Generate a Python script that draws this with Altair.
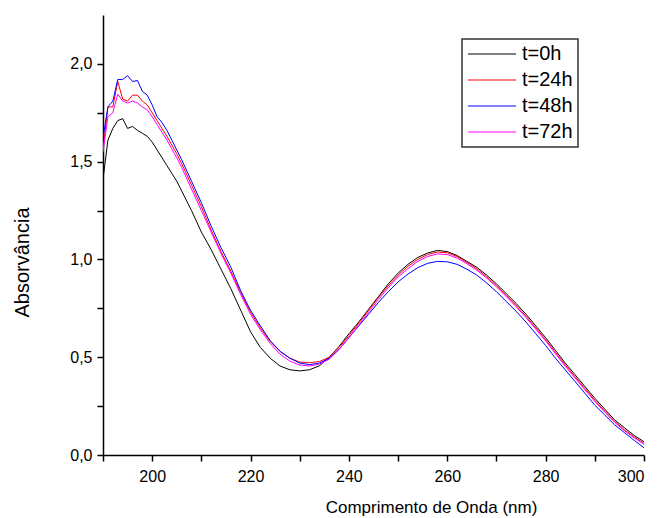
import altair as alt
import pandas as pd

wavelength = [190, 191, 192, 193, 194, 195, 196, 197, 198, 199, 200, 201, 202, 203, 204, 205, 206,
              208, 210, 212, 214, 216, 218, 220, 222, 224, 226, 228, 230, 232, 234, 236, 238, 240,
              242, 244, 246, 248, 250, 252, 254, 256, 258, 260, 262, 264, 266, 268, 270, 272, 274,
              276, 278, 280, 282, 284, 286, 288, 290, 292, 294, 296, 298, 300]

t0h = [1.41, 1.61, 1.67, 1.71, 1.72, 1.67, 1.68, 1.66, 1.645, 1.63, 1.60, 1.56, 1.52, 1.48, 1.44, 1.40, 1.35,
       1.25, 1.14, 1.05, 0.95, 0.85, 0.74, 0.63, 0.55, 0.495, 0.455, 0.436, 0.43, 0.436, 0.456, 0.50, 0.555, 0.62,
       0.68, 0.745, 0.81, 0.875, 0.93, 0.975, 1.01, 1.033, 1.046, 1.04, 1.02, 0.99, 0.96, 0.92, 0.875, 0.825, 0.775,
       0.72, 0.66, 0.60, 0.535, 0.47, 0.41, 0.35, 0.29, 0.235, 0.18, 0.14, 0.10, 0.068]

t24h = [1.56, 1.78, 1.78, 1.91, 1.82, 1.81, 1.84, 1.84, 1.81, 1.79, 1.75, 1.71, 1.67, 1.63, 1.585, 1.54, 1.49,
        1.38, 1.27, 1.15, 1.04, 0.94, 0.83, 0.73, 0.65, 0.58, 0.53, 0.495, 0.475, 0.472, 0.478, 0.50, 0.55, 0.61,
        0.675, 0.74, 0.805, 0.865, 0.92, 0.965, 1.00, 1.025, 1.038, 1.034, 1.015, 0.985, 0.952, 0.912, 0.866, 0.816, 0.765,
        0.71, 0.65, 0.59, 0.525, 0.46, 0.40, 0.34, 0.28, 0.225, 0.172, 0.13, 0.092, 0.06]

t48h = [1.62, 1.78, 1.81, 1.92, 1.92, 1.94, 1.91, 1.915, 1.86, 1.84, 1.79, 1.73, 1.70, 1.66, 1.61, 1.56, 1.51,
        1.40, 1.29, 1.17, 1.06, 0.96, 0.84, 0.74, 0.66, 0.585, 0.53, 0.495, 0.47, 0.462, 0.47, 0.495, 0.54, 0.60,
        0.66, 0.72, 0.78, 0.835, 0.885, 0.925, 0.958, 0.98, 0.99, 0.988, 0.975, 0.95, 0.92, 0.88, 0.835, 0.785, 0.735,
        0.68, 0.62, 0.56, 0.495, 0.435, 0.375, 0.315, 0.255, 0.205, 0.155, 0.115, 0.075, 0.037]

t72h = [1.55, 1.73, 1.75, 1.845, 1.81, 1.80, 1.81, 1.80, 1.78, 1.765, 1.73, 1.69, 1.65, 1.61, 1.565, 1.52, 1.47,
        1.36, 1.25, 1.14, 1.03, 0.93, 0.82, 0.72, 0.64, 0.57, 0.515, 0.48, 0.46, 0.455, 0.465, 0.49, 0.54, 0.60,
        0.665, 0.73, 0.795, 0.855, 0.91, 0.953, 0.99, 1.015, 1.028, 1.025, 1.007, 0.978, 0.945, 0.905, 0.86, 0.81, 0.758,
        0.703, 0.643, 0.583, 0.518, 0.453, 0.393, 0.333, 0.274, 0.22, 0.168, 0.125, 0.088, 0.055]

series_names = ["t=0h", "t=24h", "t=48h", "t=72h"]
series_values = [t0h, t24h, t48h, t72h]
series_colors = ["#000000", "#FF0000", "#0000FF", "#FF00FF"]

x_ticks = [190, 200, 210, 220, 230, 240, 250, 260, 270, 280, 290, 300]
y_ticks = [0.0, 0.25, 0.5, 0.75, 1.0, 1.25, 1.5, 1.75, 2.0]

rows = []
for name, vals in zip(series_names, series_values):
    for w, v in zip(wavelength, vals):
        rows.append({"nm": w, "abs": v, "serie": name})
df = pd.DataFrame(rows)

FONT = "Liberation Sans"

chart = alt.Chart(df).mark_line(strokeWidth=1, clip=True).encode(
    x=alt.X("nm:Q",
            scale=alt.Scale(domain=[190, 300], nice=False, zero=False),
            axis=alt.Axis(values=x_ticks, title="Comprimento de Onda (nm)",
                          labelExpr="(datum.value % 20 == 0 && datum.value >= 200) ? format(datum.value, 'd') : ''",
                          labelOverlap=False, labelPadding=7,
                          titleX=328, titleY=44, titleAlign="center", titleBaseline="top",
                          titleFontSize=17)),
    y=alt.Y("abs:Q",
            scale=alt.Scale(domain=[0, 2.25], nice=False),
            axis=alt.Axis(values=y_ticks, title="Absorvância",
                          labelExpr="(round(datum.value * 4) % 2 == 0) ? replace(format(datum.value, '.1f'), '.', ',') : ''",
                          labelOverlap=False, labelPadding=5,
                          titleX=-81, titleY=247, titleAlign="center", titleBaseline="middle",
                          titleAngle=270, titleFontSize=20)),
    color=alt.Color("serie:N",
                    scale=alt.Scale(domain=series_names, range=series_colors),
                    legend=alt.Legend(title=None, orient="none", legendX=359, legendY=24,
                                      symbolType="stroke", symbolSize=2304, symbolStrokeWidth=1.2,
                                      clipHeight=20, rowPadding=6, labelOffset=5,
                                      labelFontSize=20, labelFont=FONT, labelColor="black",
                                      padding=5, strokeColor="#333333", fillColor="white",
                                      cornerRadius=0)),
    order=alt.Order("nm:Q"),
).properties(
    width=541, height=440,
    autosize=alt.AutoSizeParams(type="none"),
    padding={"left": 103, "top": 15, "right": 14, "bottom": 63},
).configure_view(stroke=None).configure_axis(
    grid=False,
    domainColor="black", domainWidth=1.5,
    tickColor="black", tickWidth=1.5, tickSize=6,
    labelFont=FONT, labelFontSize=16, labelColor="black",
    titleFont=FONT, titleFontWeight="normal", titleColor="black",
).configure_legend(
    strokeWidth=1.5,
)

chart.save("out.html", embed_options={"renderer": "svg", "actions": False})
